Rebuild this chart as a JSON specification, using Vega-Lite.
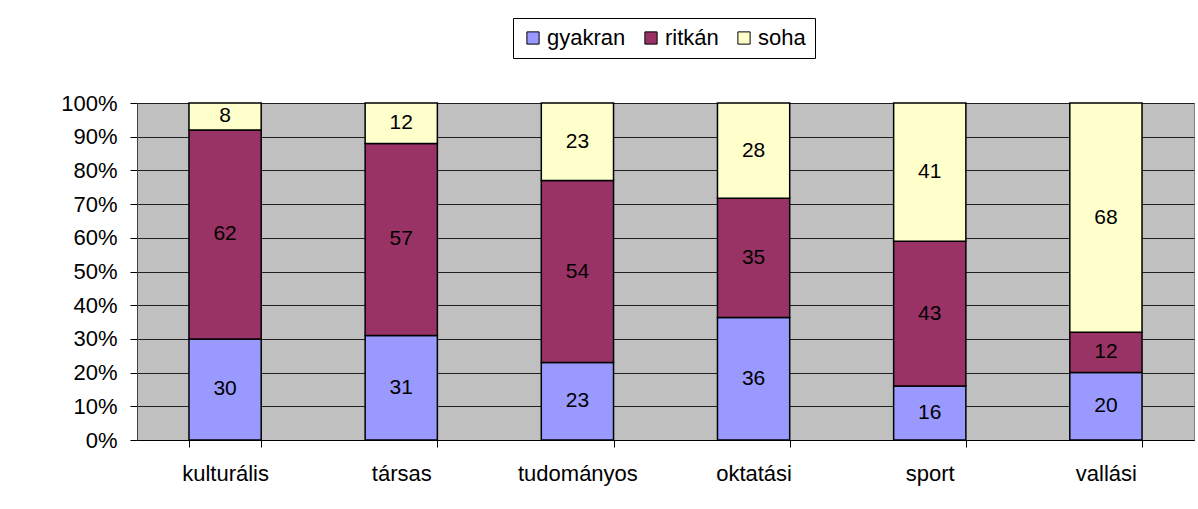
{
  "$schema": "https://vega.github.io/schema/vega-lite/v6.json",
  "width": 1057,
  "height": 337,
  "autosize": "none",
  "padding": {"left": 137, "top": 103, "right": 4, "bottom": 69},
  "background": "white",
  "config": {
    "font": "Liberation Sans",
    "view": {"fill": "#C0C0C0", "stroke": "#808080", "strokeWidth": 1},
    "axisY": {
      "grid": true,
      "gridColor": "#202020",
      "gridOpacity": 1,
      "gridWidth": 1,
      "labelOverlap": false,
      "labelFontSize": 22,
      "labelColor": "black",
      "labelPadding": 13,
      "tickSize": 7,
      "tickColor": "black",
      "domainColor": "#404040"
    }
  },
  "data": {
    "values": [
      {"cat": "kulturális", "ci": 1, "resp": "gyakran", "ord": 1, "v": 30},
      {"cat": "kulturális", "ci": 1, "resp": "ritkán", "ord": 2, "v": 62},
      {"cat": "kulturális", "ci": 1, "resp": "soha", "ord": 3, "v": 8},
      {"cat": "társas", "ci": 2, "resp": "gyakran", "ord": 1, "v": 31},
      {"cat": "társas", "ci": 2, "resp": "ritkán", "ord": 2, "v": 57},
      {"cat": "társas", "ci": 2, "resp": "soha", "ord": 3, "v": 12},
      {"cat": "tudományos", "ci": 3, "resp": "gyakran", "ord": 1, "v": 23},
      {"cat": "tudományos", "ci": 3, "resp": "ritkán", "ord": 2, "v": 54},
      {"cat": "tudományos", "ci": 3, "resp": "soha", "ord": 3, "v": 23},
      {"cat": "oktatási", "ci": 4, "resp": "gyakran", "ord": 1, "v": 36},
      {"cat": "oktatási", "ci": 4, "resp": "ritkán", "ord": 2, "v": 35},
      {"cat": "oktatási", "ci": 4, "resp": "soha", "ord": 3, "v": 28},
      {"cat": "sport", "ci": 5, "resp": "gyakran", "ord": 1, "v": 16},
      {"cat": "sport", "ci": 5, "resp": "ritkán", "ord": 2, "v": 43},
      {"cat": "sport", "ci": 5, "resp": "soha", "ord": 3, "v": 41},
      {"cat": "vallási", "ci": 6, "resp": "gyakran", "ord": 1, "v": 20},
      {"cat": "vallási", "ci": 6, "resp": "ritkán", "ord": 2, "v": 12},
      {"cat": "vallási", "ci": 6, "resp": "soha", "ord": 3, "v": 68}
    ]
  },
  "transform": [
    {"stack": "v", "groupby": ["cat"], "sort": [{"field": "ord", "order": "ascending"}], "offset": "normalize", "as": ["v0", "v1"]},
    {"calculate": "(datum.v0 + datum.v1) / 2", "as": "vmid"}
  ],
  "encoding": {
    "x": {
      "field": "cat",
      "type": "nominal",
      "sort": {"field": "ci"},
      "scale": {"paddingInner": 0.59, "paddingOuter": 0.295},
      "axis": {
        "title": null,
        "labelAngle": 0,
        "labelFontSize": 22,
        "labelColor": "black",
        "labelPadding": 16,
        "tickBand": "extent",
        "tickSize": 7,
        "tickColor": "black",
        "domainColor": "black",
        "grid": false
      }
    }
  },
  "layer": [
    {
      "mark": {"type": "bar", "stroke": "black", "strokeWidth": 1.5},
      "encoding": {
        "y": {
          "field": "v0",
          "type": "quantitative",
          "scale": {"domain": [0, 1]},
          "axis": {
            "title": null,
            "format": ".0%",
            "values": [0, 0.1, 0.2, 0.3, 0.4, 0.5, 0.6, 0.7, 0.8, 0.9, 1],
            "grid": true,
            "labelOverlap": false
          }
        },
        "y2": {"field": "v1"},
        "color": {
          "field": "resp",
          "type": "nominal",
          "sort": ["gyakran", "ritkán", "soha"],
          "scale": {"domain": ["gyakran", "ritkán", "soha"], "range": ["#9999FF", "#993366", "#FFFFCC"]},
          "legend": {
            "title": null,
            "orient": "none",
            "direction": "horizontal",
            "legendX": 376,
            "legendY": -85,
            "labelFontSize": 22,
            "labelColor": "black",
            "symbolType": "square",
            "symbolSize": 150,
            "symbolStrokeColor": "black",
            "symbolStrokeWidth": 1,
            "labelOffset": 3,
            "columnPadding": 14,
            "strokeColor": "black",
            "padding": 9,
            "fillColor": "white"
          }
        }
      }
    },
    {
      "mark": {"type": "text", "fontSize": 21, "color": "black", "baseline": "middle"},
      "encoding": {
        "y": {
          "field": "vmid",
          "type": "quantitative",
          "axis": {
            "title": null,
            "format": ".0%",
            "values": [0, 0.1, 0.2, 0.3, 0.4, 0.5, 0.6, 0.7, 0.8, 0.9, 1],
            "grid": true,
            "labelOverlap": false
          }
        },
        "text": {"field": "v", "type": "quantitative"}
      }
    }
  ]
}
